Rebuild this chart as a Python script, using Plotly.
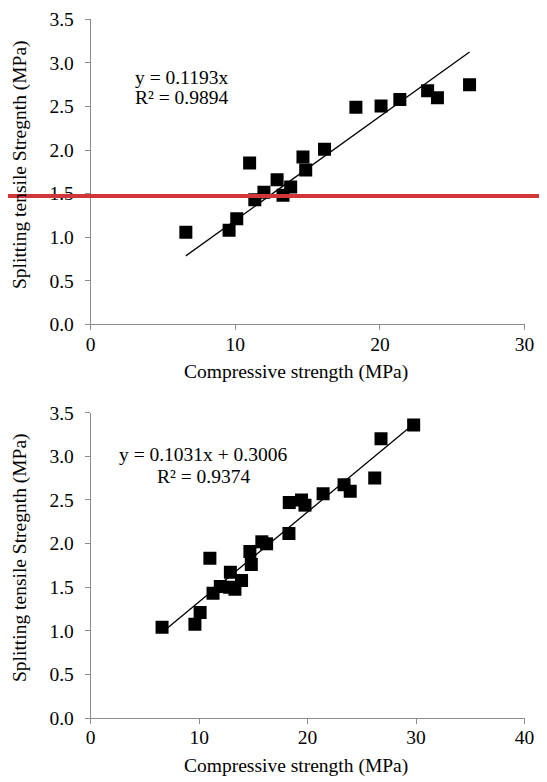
import plotly.graph_objects as go

# ---- data ----
top_compressive = [6.58, 9.57, 10.10, 10.99, 11.35, 11.98, 12.89, 13.30, 13.83,
                   14.68, 14.87, 16.17, 18.34, 20.08, 21.38, 23.30, 23.98, 26.20]
top_splitting = [1.056, 1.08, 1.21, 1.85, 1.43, 1.514, 1.66, 1.48, 1.575,
                 1.92, 1.77, 2.01, 2.49, 2.506, 2.58, 2.68, 2.60, 2.75]
top_slope = 0.1193
top_intercept = 0.0
top_eq = ["y = 0.1193x", "R² = 0.9894"]

bot_compressive = [6.58, 9.61, 10.09, 10.99, 11.28, 11.95, 12.80, 12.88, 13.30,
                   13.91, 14.68, 14.81, 15.78, 16.22, 18.28, 18.31, 19.44, 19.76,
                   21.43, 23.36, 23.93, 26.19, 26.77, 29.78]
bot_splitting = [1.04, 1.075, 1.21, 1.83, 1.43, 1.507, 1.50, 1.67, 1.477,
                 1.576, 1.91, 1.76, 2.02, 1.997, 2.115, 2.47, 2.50, 2.44,
                 2.57, 2.674, 2.60, 2.75, 3.20, 3.36]
bot_slope = 0.1031
bot_intercept = 0.3006
bot_eq = ["y = 0.1031x + 0.3006", "R² = 0.9374"]

x_title = "Compressive strength (MPa)"
y_title = "Splitting tensile Stregnth (MPa)"
top_xrange = [0, 30]
bot_xrange = [0, 40]
y_range = [0, 3.5]

# ---- layout helpers ----
# the page body adds an 8px offset, so the figure is sized/positioned to compensate
OFF = 8
W, H = 547 - OFF, 782 - OFF
FONT = "Liberation Serif, Times New Roman, serif"
FS = 19.5
AX = "#8c8c8c"


def px(x):
    return (x - OFF) / W


def py(y):
    return 1 - (y - OFF) / H


def trend(xs, m, b):
    x0, x1 = min(xs), max(xs)
    return [x0, x1], [m * x0 + b, m * x1 + b]


fig = go.Figure()

# top chart
fig.add_trace(go.Scatter(x=top_compressive, y=top_splitting, mode="markers",
                         marker=dict(symbol="square", size=13, color="black"),
                         xaxis="x", yaxis="y", showlegend=False))
tx, ty = trend(top_compressive, top_slope, top_intercept)
fig.add_trace(go.Scatter(x=tx, y=ty, mode="lines", line=dict(color="black", width=1.3),
                         xaxis="x", yaxis="y", showlegend=False))

# bottom chart
fig.add_trace(go.Scatter(x=bot_compressive, y=bot_splitting, mode="markers",
                         marker=dict(symbol="square", size=13, color="black"),
                         xaxis="x2", yaxis="y2", showlegend=False))
bx, by = trend(bot_compressive, bot_slope, bot_intercept)
fig.add_trace(go.Scatter(x=bx, y=by, mode="lines", line=dict(color="black", width=1.3),
                         xaxis="x2", yaxis="y2", showlegend=False))

xdom = [px(90.7), px(524.5)]
top_ydom = [py(324.3), py(19.3)]
bot_ydom = [py(718.0), py(412.7)]

common = dict(showgrid=False, zeroline=False, showline=True, linecolor=AX, linewidth=1,
              ticks="outside", ticklen=5, tickcolor=AX, tickwidth=1, automargin=False,
              tickfont=dict(family=FONT, size=FS, color="black"), fixedrange=True)

fig.update_layout(
    template="none",
    width=W, height=H, autosize=False,
    margin=dict(l=0, r=0, t=0, b=0, pad=0),
    paper_bgcolor="white", plot_bgcolor="white",
    font=dict(family=FONT, size=FS, color="black"),
    xaxis=dict(domain=xdom, range=top_xrange, dtick=10, anchor="y", ticklabelstandoff=-3, **common),
    yaxis=dict(domain=top_ydom, range=y_range, dtick=0.5, tickformat=".1f", anchor="x",
               ticklabelstandoff=7, **common),
    xaxis2=dict(domain=xdom, range=bot_xrange, dtick=10, anchor="y2", ticklabelstandoff=-3, **common),
    yaxis2=dict(domain=bot_ydom, range=y_range, dtick=0.5, tickformat=".1f", anchor="x2",
                ticklabelstandoff=7, **common),
)

tf = dict(family=FONT, size=FS, color="black")
ann = []
# axis titles
for yc in (372, 766):
    ann.append(dict(text=x_title, x=px(296), y=py(yc), xref="paper", yref="paper",
                    showarrow=False, font=tf, xanchor="center", yanchor="middle"))
for yc in (165, 558):
    ann.append(dict(text=y_title, x=px(20), y=py(yc), xref="paper", yref="paper",
                    showarrow=False, font=tf, textangle=-90, xanchor="center", yanchor="middle"))
# equations
ann.append(dict(text=top_eq[0], x=px(133), y=py(77), xref="paper", yref="paper",
                showarrow=False, font=tf, xanchor="left", yanchor="middle"))
ann.append(dict(text=top_eq[1], x=px(133), y=py(97), xref="paper", yref="paper",
                showarrow=False, font=tf, xanchor="left", yanchor="middle"))
ann.append(dict(text=bot_eq[0], x=px(203), y=py(454), xref="paper", yref="paper",
                showarrow=False, font=tf, xanchor="center", yanchor="middle"))
ann.append(dict(text=bot_eq[1], x=px(203), y=py(476), xref="paper", yref="paper",
                showarrow=False, font=tf, xanchor="center", yanchor="middle"))
fig.update_layout(annotations=ann)

# red horizontal marker line across the figure
fig.add_shape(type="line", xref="paper", yref="paper", x0=px(8), x1=1, y0=py(196), y1=py(196),
              line=dict(color="#d0373b", width=4))

fig.write_html("out.html")
